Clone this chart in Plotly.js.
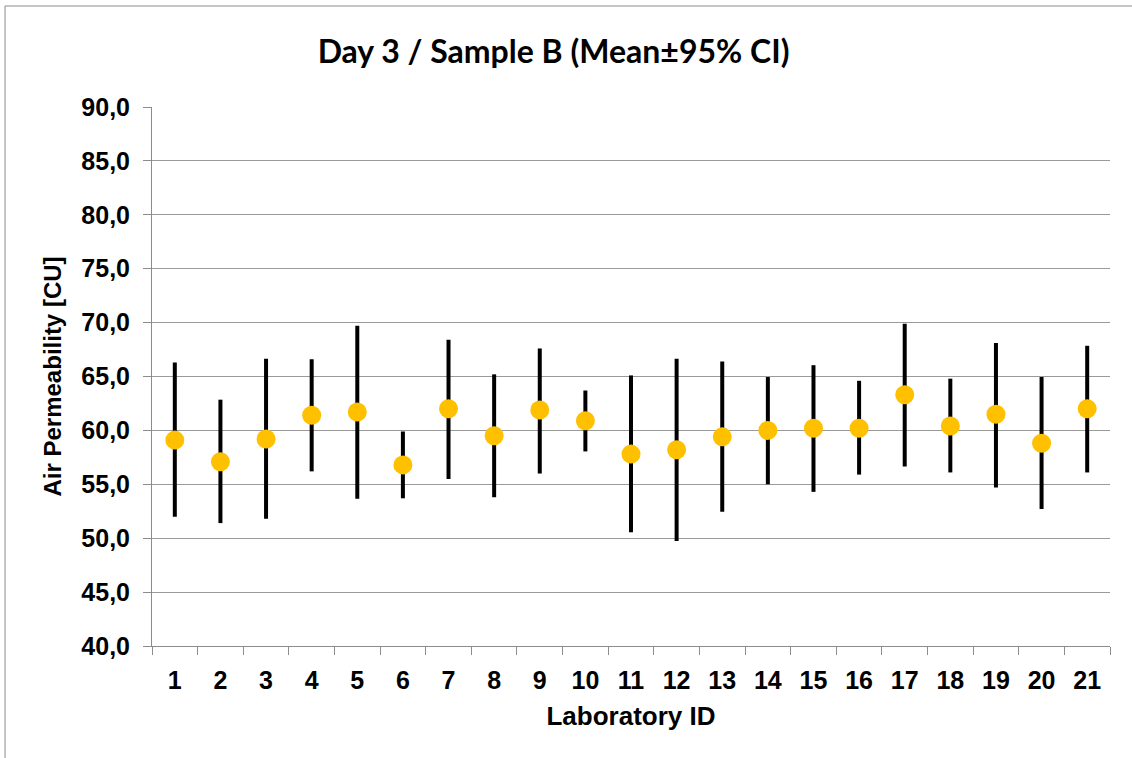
<!DOCTYPE html>
<html>
<head>
<meta charset="utf-8">
<script src="https://cdn.plot.ly/plotly-3.0.1.min.js"></script>
<style>html,body{margin:0;padding:0;background:#fff;}#chart{width:1132px;height:758px;}</style>
</head>
<body>
<div id="chart"></div>
<script>
const labIds = [1,2,3,4,5,6,7,8,9,10,11,12,13,14,15,16,17,18,19,20,21];
const tickLabels = ["1","2","3","4","5","6","7","8","9","10","11","12","13","14","15","16","17","18","19","20","21"];
const means = [59.1,57.1,59.2,61.4,61.7,56.8,62.0,59.5,61.9,60.9,57.8,58.2,59.4,60.0,60.2,60.2,63.3,60.4,61.5,58.8,62.0];
const upper = [66.3,62.85,66.65,66.6,69.7,59.9,68.4,65.2,67.6,63.7,65.1,66.65,66.4,64.95,66.05,64.6,69.9,64.8,68.1,64.95,67.85];
const lower = [52.0,51.4,51.8,56.2,53.65,53.7,55.5,53.8,56.0,58.05,50.55,49.75,52.45,55.0,54.3,55.9,56.65,56.1,54.7,52.7,56.1];

const plus = upper.map((u,i)=>u-means[i]);
const minus = lower.map((l,i)=>means[i]-l);

const traces = [
  {
    x: labIds, y: means, type: 'scatter', mode: 'markers',
    marker: {color: '#FFC000', size: 19, line: {width: 0}},
    error_y: {type: 'data', symmetric: false, array: plus, arrayminus: minus,
              color: '#000000', thickness: 4, width: 0},
    hoverinfo: 'x+y', showlegend: false
  },
  {
    x: labIds, y: means, type: 'scatter', mode: 'markers', xaxis: 'x2',
    marker: {opacity: 0}, hoverinfo: 'skip', showlegend: false
  }
];

const tickFont = {size: 25, family: '"Liberation Sans", Arial, sans-serif', weight: 'bold', color: '#000000'};

const layout = {
  width: 1132, height: 758,
  margin: {l: 152, r: 22, t: 107, b: 112},
  paper_bgcolor: '#ffffff', plot_bgcolor: '#ffffff',
  separators: ', ',
  font: {family: '"Liberation Sans", Arial, sans-serif', color: '#000000'},
  title: {
    text: '<b>Day 3 / Sample B (Mean±95% CI)</b>',
    font: {family: 'Lato, "Open Sans", sans-serif', size: 32, color: '#000000'},
    xref: 'container', x: 0.489, xanchor: 'center',
    yref: 'container', y: 1 - 52/758, yanchor: 'middle'
  },
  xaxis: {
    range: [0.5, 21.5], tickmode: 'array', tickvals: labIds, ticktext: tickLabels,
    showgrid: false, zeroline: false, ticks: '', showline: true, linecolor: '#8c8c8c', linewidth: 1,
    tickfont: tickFont,
    ticklabelstandoff: 12,
    title: {text: '<b>Laboratory ID</b>', font: {size: 26}, standoff: 13}
  },
  xaxis2: {
    range: [0.5, 21.5], overlaying: 'x', anchor: 'y', side: 'bottom',
    tickmode: 'linear', tick0: 0.5, dtick: 1, ticks: 'outside', ticklen: 8, tickwidth: 1,
    tickcolor: '#8c8c8c', showticklabels: false, showgrid: false, zeroline: false, showline: false
  },
  yaxis: {
    range: [40, 90], tickmode: 'linear', tick0: 40, dtick: 5, tickformat: '.1f',
    showgrid: true, gridcolor: '#9a9a9a', gridwidth: 1, zeroline: false,
    showline: true, linecolor: '#8c8c8c', linewidth: 1,
    ticks: 'outside', ticklen: 8, tickcolor: '#8c8c8c',
    tickfont: tickFont,
    ticklabelstandoff: 8,
    title: {text: '<b>Air Permeability [CU]</b>', font: {size: 24}, standoff: 12}
  },
  shapes: [
    {type: 'rect', xref: 'paper', yref: 'paper', x0: -0.1534, x1: 1.2, y0: -0.4, y1: 1.1874,
     line: {color: '#8c8c8c', width: 1}, fillcolor: 'rgba(0,0,0,0)', layer: 'below'}
  ]
};

Plotly.newPlot('chart', traces, layout, {displayModeBar: false, staticPlot: true});
</script>
</body>
</html>
